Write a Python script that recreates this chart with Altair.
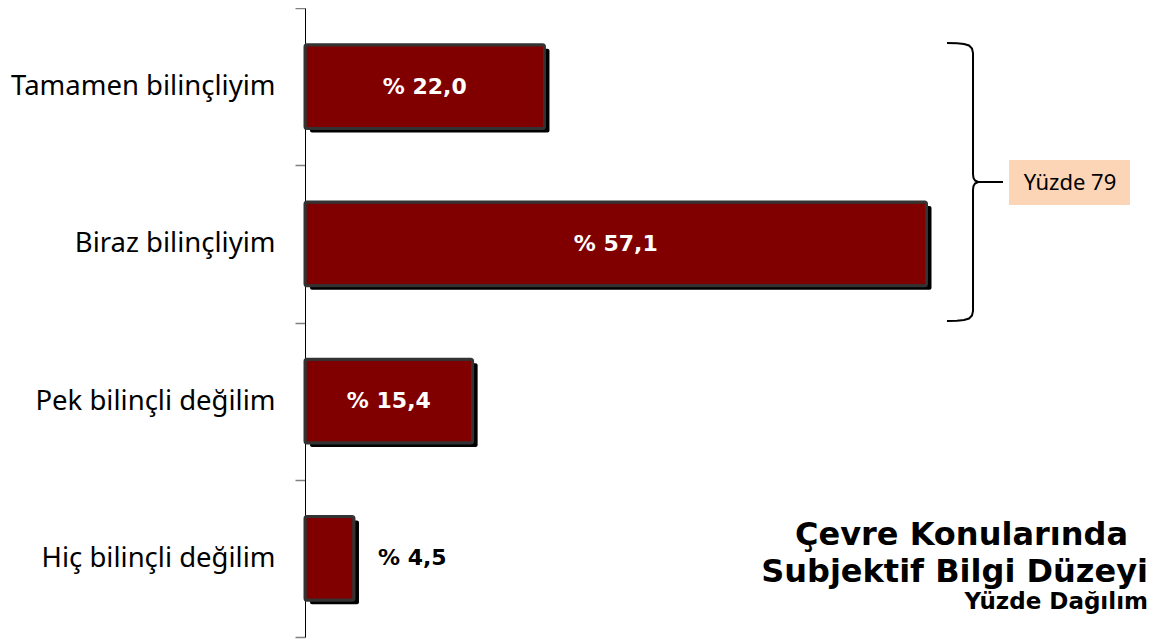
import altair as alt
import pandas as pd

# ---- data ----
categories = ["Tamamen bilinçliyim", "Biraz bilinçliyim", "Pek bilinçli değilim", "Hiç bilinçli değilim"]
values = [22.0, 57.1, 15.4, 4.5]
value_labels = ["% 22,0", "% 57,1", "% 15,4", "% 4,5"]
group_label = "Yüzde 79"
title_lines = ["Çevre Konularında", "Subjektif Bilgi Düzeyi", "Yüzde Dağılım"]

df = pd.DataFrame({"cat": categories, "val": values, "lab": value_labels})
df["inside"] = df["val"] >= 10

# brace (annotation) path, pixel coords relative to plot origin
top_x = [642, 652, 659, 664, 667, 668, 668, 668.5, 670, 673, 698]
top_y = [35, 35.3, 36, 37.5, 40.5, 45, 166, 170, 172.5, 174, 174]
brace_rows = []
for i, (bx, by) in enumerate(zip(top_x, top_y)):
    brace_rows.append({"bx": bx, "by": by, "seg": "a", "o": i})
    brace_rows.append({"bx": bx, "by": 348 - by, "seg": "b", "o": i})
brace_df = pd.DataFrame(brace_rows)

x_scale = alt.Scale(domain=[0, 78], nice=False, zero=True)
y_enc = alt.Y(
    "cat:N",
    sort=categories,
    scale=alt.Scale(paddingInner=0, paddingOuter=0),
    axis=alt.Axis(
        title=None,
        domainColor="black",
        domainWidth=1,
        tickColor="#808080",
        tickSize=10,
        tickWidth=1.5,
        tickBand="extent",
        labelFontSize=27.5,
        labelFont="Noto Sans",
        labelColor="black",
        labelPadding=20,
        labelLimit=0,
        grid=False,
    ),
)
x_enc = alt.X("val:Q", scale=x_scale, axis=None)
bar_h = alt.RelativeBandSize(band=0.534)

base = alt.Chart(df)

shadow = base.mark_bar(
    color="black", height=bar_h, xOffset=5, x2Offset=5, yOffset=4, cornerRadius=2
).encode(x=x_enc, x2=alt.datum(0), y=y_enc)
bars = base.mark_bar(
    color="#800000", stroke="#333333", strokeWidth=3, height=bar_h, cornerRadius=2
).encode(x=x_enc, y=y_enc)
inside_text = (
    base.transform_filter("datum.inside")
    .transform_calculate(mid="datum.val / 2")
    .mark_text(color="white", font="DejaVu Sans", fontWeight="bold", fontSize=22, baseline="middle")
    .encode(x=alt.X("mid:Q", scale=x_scale, axis=None), y=y_enc, text="lab:N")
)
outside_text = (
    base.transform_filter("!datum.inside")
    .mark_text(color="black", font="DejaVu Sans", fontWeight="bold", fontSize=22, baseline="middle", align="left", dx=24)
    .encode(x=x_enc, y=y_enc, text="lab:N")
)

brace = alt.Chart(brace_df).mark_line(color="black", strokeWidth=2).encode(
    x=alt.X("bx:Q", scale=None, axis=None),
    y=alt.Y("by:Q", scale=None, axis=None),
    detail="seg:N",
    order="o:Q",
)

one = alt.Data(values=[{}])
box = alt.Chart(one).mark_rect(color="#FBD5B5").encode(
    x=alt.value(704), x2=alt.value(825), y=alt.value(152), y2=alt.value(197)
)
box_text = alt.Chart(one).mark_text(font="Noto Sans", fontSize=22, color="black", baseline="middle", align="center").encode(
    x=alt.value(765), y=alt.value(175), text=alt.value(group_label)
)

t1 = alt.Chart(one).mark_text(font="DejaVu Sans", fontWeight="bold", fontSize=32, color="black", align="right", baseline="alphabetic").encode(
    x=alt.value(823), y=alt.value(537), text=alt.value(title_lines[0])
)
t2 = alt.Chart(one).mark_text(font="DejaVu Sans", fontWeight="bold", fontSize=32, color="black", align="right", baseline="alphabetic").encode(
    x=alt.value(843), y=alt.value(574), text=alt.value(title_lines[1])
)
t3 = alt.Chart(one).mark_text(font="DejaVu Sans", fontWeight="bold", fontSize=23, color="black", align="right", baseline="alphabetic").encode(
    x=alt.value(843), y=alt.value(601), text=alt.value(title_lines[2])
)

chart = (
    alt.layer(shadow, bars, inside_text, outside_text, brace, box, box_text, t1, t2, t3)
    .properties(
        width=849,
        height=629,
        autosize=alt.AutoSizeParams(type="none"),
        padding={"left": 297, "top": 0, "right": 0, "bottom": 5},
    )
    .configure_view(stroke=None)
)

chart.save("out.html", embed_options={"renderer": "svg", "actions": False})
